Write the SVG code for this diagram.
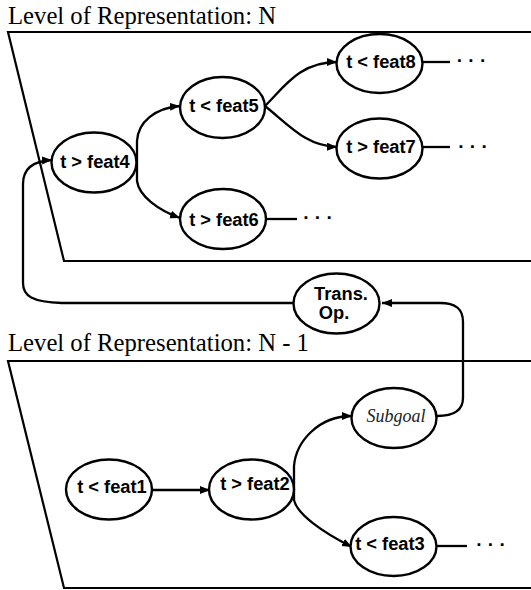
<svg xmlns="http://www.w3.org/2000/svg" width="531" height="590" viewBox="0 0 531 590">
<style>
.frame{fill:none;stroke:#000;stroke-width:2.2}
.title{font-family:"Liberation Serif","Times New Roman",serif;font-size:24.7px;fill:#000}
.node ellipse{fill:#fff;stroke:#000;stroke-width:2.4}
.lbl{font-family:"Liberation Sans",Arial,sans-serif;font-weight:bold;font-size:18.3px;fill:#000;text-anchor:middle}
.ital{font-family:"Liberation Serif","Times New Roman",serif;font-style:italic;font-size:18px;fill:#222;text-anchor:middle}
.conn{fill:none;stroke:#000;stroke-width:2.3}
.arr{marker-end:url(#ah)}
.dots{font-family:"Liberation Sans",Arial,sans-serif;font-weight:bold;font-size:19px;fill:#000;text-anchor:middle}
</style>
<defs>
<marker id="ah" markerUnits="userSpaceOnUse" markerWidth="11" markerHeight="9" refX="10" refY="4" orient="auto">
<path d="M0,0 L10,4 L0,8 z" fill="#000"/>
</marker>
</defs>
<rect width="531" height="590" fill="#fff"/>
<g id="frames">
<text class="title" x="8" y="24">Level of Representation: N</text>
<path class="frame" d="M531,32 H8 L64,261 H531"/>
<text class="title" x="8" y="351">Level of Representation: N - 1</text>
<path class="frame" d="M531,361 H8 L64,588 H531"/>
</g>
<g id="connectors">
<path class="conn arr" d="M137,163 V141 C138,122 155,108 180,106"/>
<path class="conn arr" d="M137,163 V181 C139,196 158,210 180,218"/>
<path class="conn arr" d="M265,106 C285,86 300,62 337,62"/>
<path class="conn arr" d="M265,106 C290,126 306,146 337,147"/>
<path class="conn" d="M422,62 H450"/>
<path class="conn" d="M422,147 H450"/>
<path class="conn" d="M266,219 H297"/>
<path class="conn arr" d="M293,303 H62 C32,302 23,296 23,283 V184 C23,169 32,161 52,160"/>
<path class="conn arr" d="M437,416 C455,416 463,410 463,398 V322 C463,309 456,303 440,303 L382,303"/>
<path class="conn arr" d="M152,490 H210"/>
<path class="conn arr" d="M294,489 V466 C296,442 318,416 352,416"/>
<path class="conn arr" d="M294,489 V500 C297,514 322,532 352,547"/>
<path class="conn" d="M437,546 H467"/>
</g>
<g id="ellipsis-marks">
<text class="dots" x="471.5" y="66.5">· · ·</text>
<text class="dots" x="473" y="152.5">· · ·</text>
<text class="dots" x="318" y="223.5">· · ·</text>
<text class="dots" x="491" y="550.5">· · ·</text>
</g>
<g id="node-feat4" class="node"><ellipse cx="94" cy="162.5" rx="42.5" ry="30"/><text class="lbl" x="95" y="168">t &gt; feat4</text></g>
<g id="node-feat5" class="node"><ellipse cx="222.5" cy="107.5" rx="42.5" ry="30.5"/><text class="lbl" x="224" y="111.5">t &lt; feat5</text></g>
<g id="node-feat8" class="node"><ellipse cx="379.5" cy="63.5" rx="43" ry="29.5"/><text class="lbl" x="381" y="68">t &lt; feat8</text></g>
<g id="node-feat7" class="node"><ellipse cx="379.5" cy="148.5" rx="43" ry="30"/><text class="lbl" x="381" y="153">t &gt; feat7</text></g>
<g id="node-feat6" class="node"><ellipse cx="223" cy="219" rx="43" ry="30"/><text class="lbl" x="224" y="226">t &gt; feat6</text></g>
<g id="node-transop" class="node"><ellipse cx="336.5" cy="303.5" rx="43" ry="30"/><text class="lbl" x="341" y="300">Trans.</text><text class="lbl" x="334" y="319">Op.</text></g>
<g id="node-subgoal" class="node"><ellipse cx="394" cy="418" rx="42.5" ry="30"/><text class="ital" x="396" y="422">Subgoal</text></g>
<g id="node-feat1" class="node"><ellipse cx="109" cy="489.5" rx="43" ry="30"/><text class="lbl" x="112" y="493">t &lt; feat1</text></g>
<g id="node-feat2" class="node"><ellipse cx="251.5" cy="489.5" rx="42.5" ry="30"/><text class="lbl" x="255" y="489.5">t &gt; feat2</text></g>
<g id="node-feat3" class="node"><ellipse cx="393.5" cy="546.5" rx="43" ry="29.5"/><text class="lbl" x="390" y="550">t &lt; feat3</text></g>
</svg>
